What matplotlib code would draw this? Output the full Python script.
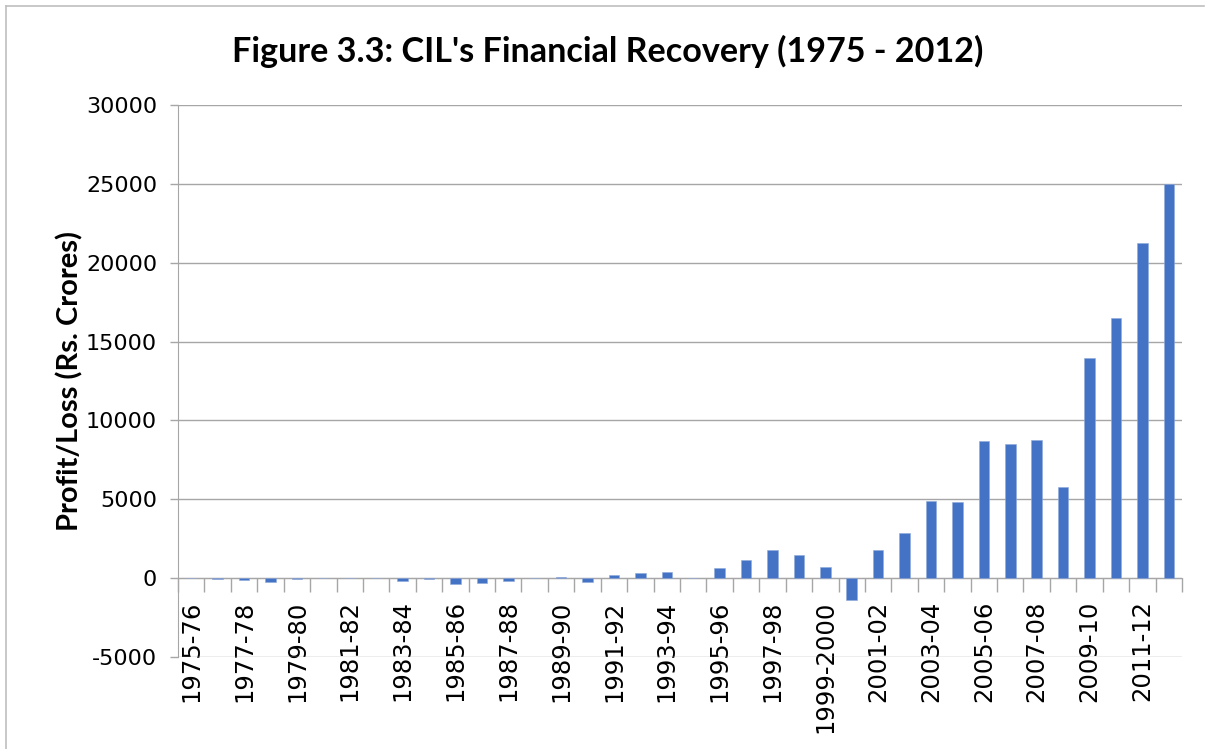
import matplotlib

matplotlib.use("Agg")
import matplotlib.pyplot as plt
from matplotlib.lines import Line2D
import numpy as np

BLUE = "#4472C4"
GRID = "#A6A6A6"
BORDER = "#BFBFBF"

YEARS = [
    "1975-76", "1976-77", "1977-78", "1978-79", "1979-80", "1980-81",
    "1981-82", "1982-83", "1983-84", "1984-85", "1985-86", "1986-87",
    "1987-88", "1988-89", "1989-90", "1990-91", "1991-92", "1992-93",
    "1993-94", "1994-95", "1995-96", "1996-97", "1997-98", "1998-99",
    "1999-2000", "2000-01", "2001-02", "2002-03", "2003-04", "2004-05",
    "2005-06", "2006-07", "2007-08", "2008-09", "2009-10", "2010-11",
    "2011-12", "2012-13",
]
PROFIT = [
    -10, -40, -120, -240, -50, 0,
    10, 0, -210, -30, -380, -320,
    -210, 0, 60, -230, 190, 300,
    400, 10, 630, 1160, 1790, 1480,
    720, -1390, 1770, 2890, 4870, 4810,
    8670, 8520, 8760, 5760, 13980, 16480,
    21270, 25000,
]
Y_TICKS = [-5000, 0, 5000, 10000, 15000, 20000, 25000, 30000]

TITLE = "Figure 3.3: CIL's Financial Recovery (1975 - 2012)"
YLABEL = "Profit/Loss (Rs. Crores)"


def main() -> None:
    fig = plt.figure(figsize=(12.05, 7.49), dpi=100)
    ax = fig.add_axes([178 / 1205, 1 - 657 / 749, (1182 - 178) / 1205, (657 - 105) / 749])

    x = np.arange(len(YEARS))
    ax.bar(x, PROFIT, width=0.4, color=BLUE, edgecolor="#8FAADC", linewidth=0.4, zorder=3)

    ax.set_xlim(-0.5, len(YEARS) - 0.5)
    ax.set_ylim(Y_TICKS[0], Y_TICKS[-1])
    ax.set_yticks(Y_TICKS)
    ax.set_yticklabels([str(v) for v in Y_TICKS], fontfamily="DejaVu Sans", fontsize=16)
    ax.yaxis.grid(True, color=GRID, linewidth=1.0)
    ax.set_axisbelow(True)

    for side in ("top", "right"):
        ax.spines[side].set_visible(False)
    ax.spines["left"].set_color(GRID)
    ax.spines["bottom"].set_color(GRID)
    ax.spines["bottom"].set_position(("data", 0))

    ax.set_xticks(x[::2])
    ax.set_xticklabels(YEARS[::2], rotation=90, fontfamily="DejaVu Sans", fontsize=17.5)
    ax.set_xticks(np.arange(len(YEARS) + 1) - 0.5, minor=True)
    ax.tick_params(axis="x", which="major", length=0, pad=16)
    ax.tick_params(axis="x", which="minor", length=10, color=GRID, width=1.0)
    ax.tick_params(axis="y", length=6, color=GRID, width=1.0, pad=9)

    ax.set_ylabel(YLABEL, fontfamily="Lato", fontweight="bold", fontsize=21, labelpad=2)
    fig.text(608 / 1205, 1 - 51 / 749, TITLE, ha="center", va="center",
             fontfamily="Lato", fontweight="bold", fontsize=24.6)

    # thin chart-area border along the top and left edges
    fig.add_artist(Line2D([6 / 1205, 1204 / 1205], [1 - 6 / 749, 1 - 6 / 749],
                          transform=fig.transFigure, color=BORDER, linewidth=1.2))
    fig.add_artist(Line2D([6 / 1205, 6 / 1205], [1 - 6 / 749, 0],
                          transform=fig.transFigure, color=BORDER, linewidth=1.2))

    fig.savefig("out.png", dpi=100)
    plt.close(fig)


if __name__ == "__main__":
    main()
